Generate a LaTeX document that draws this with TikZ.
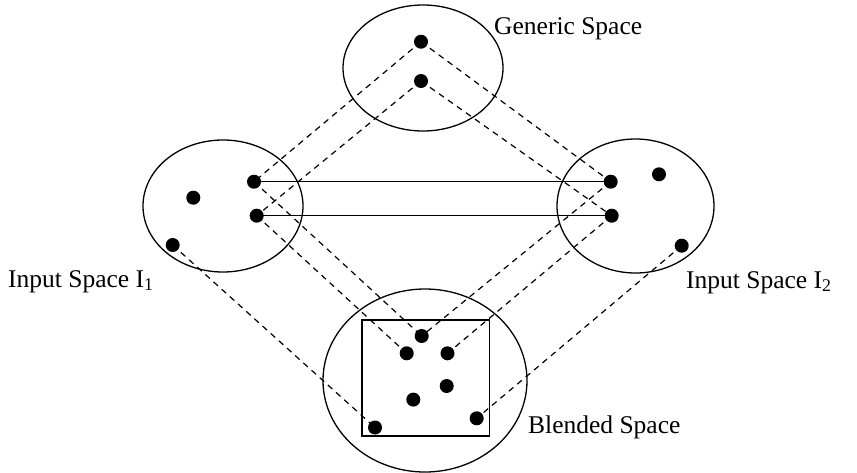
\documentclass[tikz,border=0pt]{standalone}
\usepackage{fontspec}
\setmainfont{Liberation Serif}
\usetikzlibrary{shapes.geometric}
\begin{document}
\begin{tikzpicture}[x=1pt,y=-1pt,
  space/.style={draw,ellipse,line width=1.3pt,inner sep=0pt},
  dot/.style={circle,fill=black,inner sep=0pt,minimum size=14pt},
  map/.style={line width=1.2pt,dash pattern=on 6pt off 5pt},
  link/.style={line width=1.3pt},
  lbl/.style={anchor=base west,inner sep=0pt,font=\fontsize{25.5}{30}\selectfont}]
\useasboundingbox (0,0) rectangle (857,472);
% spaces
\node[space,minimum width=160pt,minimum height=126pt] (gen) at (423,68) {};
\node[space,minimum width=160pt,minimum height=132pt] (in1) at (223,206) {};
\node[space,minimum width=157pt,minimum height=134pt] (in2) at (635.5,206) {};
\node[space,minimum width=204pt,minimum height=183pt] (bl) at (425,380.5) {};
\draw[link,line width=1.6pt] (362,320) rectangle (489.5,436);
% dots
\node[dot] (g1) at (421,41.7) {};
\node[dot] (g2) at (421,81) {};
\node[dot] (a1) at (254,181.7) {};
\node[dot] (a2) at (193.3,197.7) {};
\node[dot] (a3) at (256.7,215.7) {};
\node[dot] (a4) at (172.7,245) {};
\node[dot] (b1) at (610.7,181.7) {};
\node[dot] (b2) at (659,174.3) {};
\node[dot] (b3) at (611.7,215.7) {};
\node[dot] (b4) at (681.7,245.7) {};
\node[dot] (c1) at (421.7,336) {};
\node[dot] (c2) at (406.7,353.3) {};
\node[dot] (c3) at (447.5,353.3) {};
\node[dot] (c4) at (446.7,386) {};
\node[dot] (c5) at (413.3,399.6) {};
\node[dot] (c6) at (375,427.5) {};
\node[dot] (c7) at (476.7,418.3) {};
% solid links
\draw[link] (a1.center) -- (b1.center);
\draw[link] (a3.center) -- (b3.center);
% dashed mappings
\draw[map] (g1.center) -- (a1.center);
\draw[map] (g1.center) -- (b1.center);
\draw[map] (g2.center) -- (a3.center);
\draw[map] (g2.center) -- (b3.center);
\draw[map] (a1.center) -- (c1.center);
\draw[map] (a3.center) -- (c2.center);
\draw[map] (b1.center) -- (c1.center);
\draw[map] (b3.center) -- (c3.center);
\draw[map] (a4.center) -- (c6.center);
\draw[map] (b4.center) -- (c7.center);
% labels
\node[lbl] (lg) at (494,34) {Generic Space};
\node[lbl] (l1) at (8,287) {Input Space I\textsubscript{1}};
\node[lbl] (l2) at (686,288) {Input Space I\textsubscript{2}};
\node[lbl] (lb) at (528,433) {Blended Space};
\end{tikzpicture}
\end{document}
